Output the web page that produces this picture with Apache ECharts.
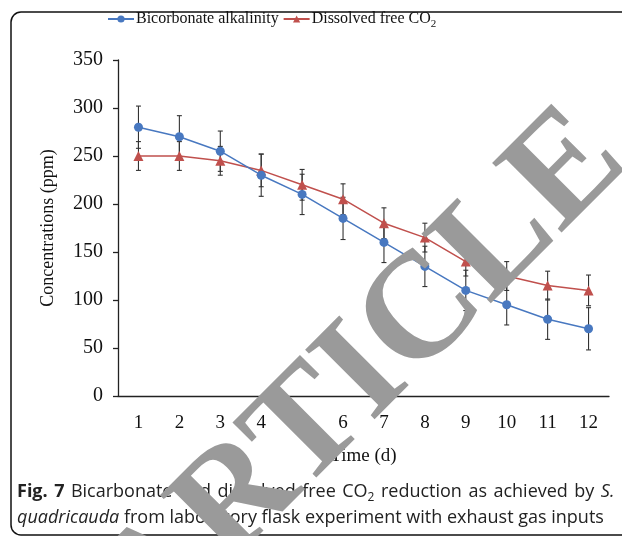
<!DOCTYPE html>
<html>
<head>
<meta charset="utf-8">
<script src="https://cdn.jsdelivr.net/npm/echarts@6/dist/echarts.min.js"></script>
<style>html,body{margin:0;padding:0;background:#fff}#c{width:622px;height:536px}</style>
</head>
<body>
<div id="c"></div>
<script>
const days = ['1','2','3','4','5','6','7','8','9','10','11','12'];
const bicarbonate = [280,270,255,230,210,185,160,135,110,95,80,70];
const bicarbonateErr = [22,22,21,22,21,22,21,21,21,21,21,22];
const dissolvedCO2 = [250,250,245,235,220,205,180,165,140,125,115,110];
const dissolvedCO2Err = [15,15,15,17,16,16,16,15,15,15,15,16];
const yMin = 0, yMax = 350, yStep = 50;

const serif = '"Liberation Serif", "Times New Roman", serif';
const sans = '"Open Sans", "Noto Sans", sans-serif';
const blue = '#4878c0', red = '#c0504d';

function errData(vals, errs){ return vals.map((v,i)=>[i, v-errs[i], v+errs[i]]); }
function errRender(params, api){
  const x = api.value(0);
  const lo = api.coord([x, api.value(1)]);
  const hi = api.coord([x, api.value(2)]);
  const w = 2.5;
  const st = {stroke:'#333', lineWidth:1.1};
  return {type:'group', children:[
    {type:'line', shape:{x1:lo[0],y1:lo[1],x2:hi[0],y2:hi[1]}, style:st},
    {type:'line', shape:{x1:lo[0]-w,y1:lo[1],x2:lo[0]+w,y2:lo[1]}, style:st},
    {type:'line', shape:{x1:hi[0]-w,y1:hi[1],x2:hi[0]+w,y2:hi[1]}, style:st}
  ]};
}
const HS = ' \u200A';
const caption1 = '{b|Fig.' + HS + '7}' + HS + ['Bicarbonate','and','dissolved','free','CO{s|2}','reduction','as','achieved','by','{i|S.}'].join(HS);

const chart = echarts.init(document.getElementById('c'), null, {renderer:'canvas'});
chart.setOption({
  animation:false,
  backgroundColor:'#fff',
  grid:{left:118, right:13, top:60, bottom:140, containLabel:false},
  legend:{
    left:102, top:6, itemWidth:26, itemHeight:9, itemGap:4,
    data:['Bicorbonate alkalinity','Dissolved free CO2'],
    formatter:function(n){ return n==='Dissolved free CO2' ? 'Dissolved free CO{sub|2}' : n; },
    textStyle:{fontFamily:serif, fontSize:16, color:'#111', padding:[0,0,0,-3],
      rich:{sub:{fontFamily:serif, fontSize:11, color:'#111', verticalAlign:'bottom', padding:[11,0,0,0]}}}
  },
  xAxis:{
    type:'category', data:days, boundaryGap:true,
    name:'Time (d)', nameLocation:'middle', nameGap:51,
    nameTextStyle:{fontFamily:serif, fontSize:19, color:'#111'},
    axisLine:{lineStyle:{color:'#222', width:1.3}},
    axisTick:{alignWithLabel:true, length:6, lineStyle:{color:'#222', width:1.3}},
    axisLabel:{fontFamily:serif, fontSize:19, color:'#111', margin:18},
    splitLine:{show:false}
  },
  yAxis:{
    type:'value', min:yMin, max:yMax, interval:yStep,
    name:'Concentrations (ppm)', nameLocation:'middle', nameGap:61, nameRotate:90,
    nameTextStyle:{fontFamily:serif, fontSize:18, color:'#111'},
    axisLine:{show:true, lineStyle:{color:'#222', width:1.3}},
    axisTick:{show:true, length:5, lineStyle:{color:'#222', width:1.3}},
    axisLabel:{fontFamily:serif, fontSize:20, color:'#111', margin:15},
    splitLine:{show:false}
  },
  series:[
    {type:'custom', name:'errB', data:errData(bicarbonate,bicarbonateErr), renderItem:errRender, z:1, silent:true},
    {type:'custom', name:'errR', data:errData(dissolvedCO2,dissolvedCO2Err), renderItem:errRender, z:1, silent:true},
    {type:'line', name:'Bicorbonate alkalinity', data:bicarbonate, color:blue, symbol:'circle', symbolSize:9,
      lineStyle:{color:blue, width:1.5}, itemStyle:{color:blue}, z:3},
    {type:'line', name:'Dissolved free CO2', data:dissolvedCO2, color:red, symbol:'triangle', symbolSize:10,
      lineStyle:{color:red, width:1.5}, itemStyle:{color:red}, z:2}
  ],
  graphic:[
    {type:'rect', z:-1, shape:{x:11, y:12, width:640, height:523, r:10}, style:{fill:null, stroke:'#111', lineWidth:1.5}},
    {type:'text', x:17, y:492, z:10, style:{
      text:caption1,
      font:'18px '+sans, fill:'#222', verticalAlign:'middle',
      rich:{b:{fontFamily:sans, fontSize:18, fontWeight:'bold', fill:'#222'},
            i:{fontFamily:sans, fontSize:18, fontStyle:'italic', fill:'#222'},
            s:{fontFamily:sans, fontSize:12, fill:'#222', verticalAlign:'bottom', padding:[11,0,0,0]}}
    }},
    {type:'text', x:17, y:518, z:10, style:{
      text:'{i|quadricauda} from laboratory flask experiment with exhaust gas inputs',
      font:'18px '+sans, fill:'#222', verticalAlign:'middle',
      rich:{i:{fontFamily:sans, fontSize:18, fontStyle:'italic', fill:'#222'}}
    }},
    {type:'text', x:603, y:136, rotation:Math.PI/4, z:100, style:{
      text:'ARTICLE', font:'bold 150px '+serif, fill:'#9a9a9a', align:'right', verticalAlign:'middle'
    }}
  ]
});
</script>
</body>
</html>
